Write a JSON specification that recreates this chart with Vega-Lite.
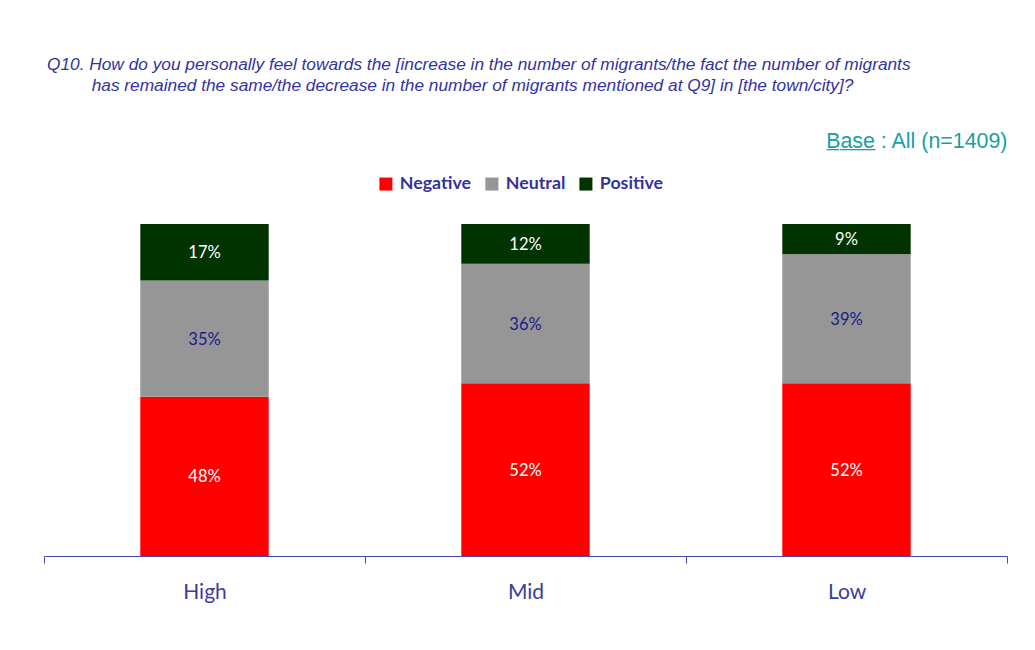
{
  "$schema": "https://vega.github.io/schema/vega-lite/v6.json",
  "autosize": "none",
  "width": 963,
  "height": 332,
  "padding": {"left": 44, "top": 224, "right": 28, "bottom": 94},
  "background": "white",
  "title": {
    "text": [
      "Q10. How do you personally feel towards the [increase in the number of migrants/the fact the number of migrants",
      "\u200b\u00a0\u00a0\u00a0\u00a0\u00a0\u00a0\u00a0\u00a0\u00a0\u200ahas remained the same/the decrease in the number of migrants mentioned at Q9] in [the town/city]?"
    ],
    "anchor": "start",
    "frame": "group",
    "dx": 3,
    "offset": 36,
    "font": "Liberation Sans",
    "fontStyle": "italic",
    "fontWeight": "normal",
    "fontSize": 17.3,
    "lineHeight": 21,
    "color": "#3333a0"
  },
  "data": {
    "values": [
      {"group": "High", "sentiment": "Negative", "rank": 1, "value": 48, "label": "48%"},
      {"group": "High", "sentiment": "Neutral", "rank": 2, "value": 35, "label": "35%"},
      {"group": "High", "sentiment": "Positive", "rank": 3, "value": 17, "label": "17%"},
      {"group": "Mid", "sentiment": "Negative", "rank": 1, "value": 52, "label": "52%"},
      {"group": "Mid", "sentiment": "Neutral", "rank": 2, "value": 36, "label": "36%"},
      {"group": "Mid", "sentiment": "Positive", "rank": 3, "value": 12, "label": "12%"},
      {"group": "Low", "sentiment": "Negative", "rank": 1, "value": 52, "label": "52%"},
      {"group": "Low", "sentiment": "Neutral", "rank": 2, "value": 39, "label": "39%"},
      {"group": "Low", "sentiment": "Positive", "rank": 3, "value": 9, "label": "9%"}
    ]
  },
  "encoding": {
    "x": {
      "field": "group",
      "type": "nominal",
      "sort": ["High", "Mid", "Low"],
      "scale": {"paddingInner": 0, "paddingOuter": 0}
    },
    "y": {
      "field": "value",
      "type": "quantitative",
      "stack": "zero",
      "scale": {"domain": [0, 100], "nice": false},
      "axis": null
    },
    "order": {"field": "rank", "type": "quantitative"}
  },
  "layer": [
    {
      "mark": {"type": "bar", "width": {"band": 0.4}},
      "encoding": {
        "x": {
          "field": "group",
          "type": "nominal",
          "sort": ["High", "Mid", "Low"],
          "scale": {"paddingInner": 0, "paddingOuter": 0},
          "axis": {
            "orient": "bottom",
            "title": null,
            "labelAngle": 0,
            "tickBand": "extent",
            "domainColor": "#4a4aaa",
            "domainWidth": 1.2,
            "tickColor": "#4a4aaa",
            "tickSize": 7,
            "labelFont": "Lato",
            "labelFontSize": 21,
            "labelColor": "#3c3c9c",
            "labelPadding": 18
          }
        },
        "color": {
          "field": "sentiment",
          "type": "nominal",
          "scale": {"domain": ["Negative", "Neutral", "Positive"], "range": ["#ff0000", "#969696", "#003300"]},
          "legend": {
            "orient": "none",
            "direction": "horizontal",
            "legendX": 333,
            "legendY": -49,
            "title": null,
            "symbolType": "square",
            "symbolSize": 170,
            "symbolStrokeWidth": 0,
            "labelFont": "Lato",
            "labelFontWeight": "bold",
            "labelFontSize": 17.8,
            "labelColor": "#333399",
            "labelOffset": 5,
            "columnPadding": 11
          }
        }
      }
    },
    {
      "mark": {"type": "text", "font": "Lato", "fontSize": 16.5, "baseline": "middle", "dy": 1},
      "encoding": {
        "x": {
          "field": "group",
          "type": "nominal",
          "sort": ["High", "Mid", "Low"],
          "scale": {"paddingInner": 0, "paddingOuter": 0},
          "axis": {
            "orient": "top",
            "domain": false,
            "ticks": false,
            "labels": false,
            "title": "B\u0332a\u0332s\u0332e\u0332 : All (n=1409)",
            "titleAnchor": "end",
            "titleAlign": "right",
            "titleFont": "Liberation Sans",
            "titleFontWeight": "normal",
            "titleFontSize": 21.4,
            "titleColor": "#17a0a0",
            "titlePadding": 73
          }
        },
        "y": {
          "field": "value",
          "type": "quantitative",
          "stack": "zero",
          "bandPosition": 0.5,
          "axis": null
        },
        "text": {"field": "label"},
        "color": {
          "condition": {"test": "datum.sentiment === 'Neutral'", "value": "#1a1a8c"},
          "value": "#ffffff"
        }
      }
    }
  ],
  "resolve": {"axis": {"x": "independent"}},
  "config": {"view": {"stroke": null}}
}
